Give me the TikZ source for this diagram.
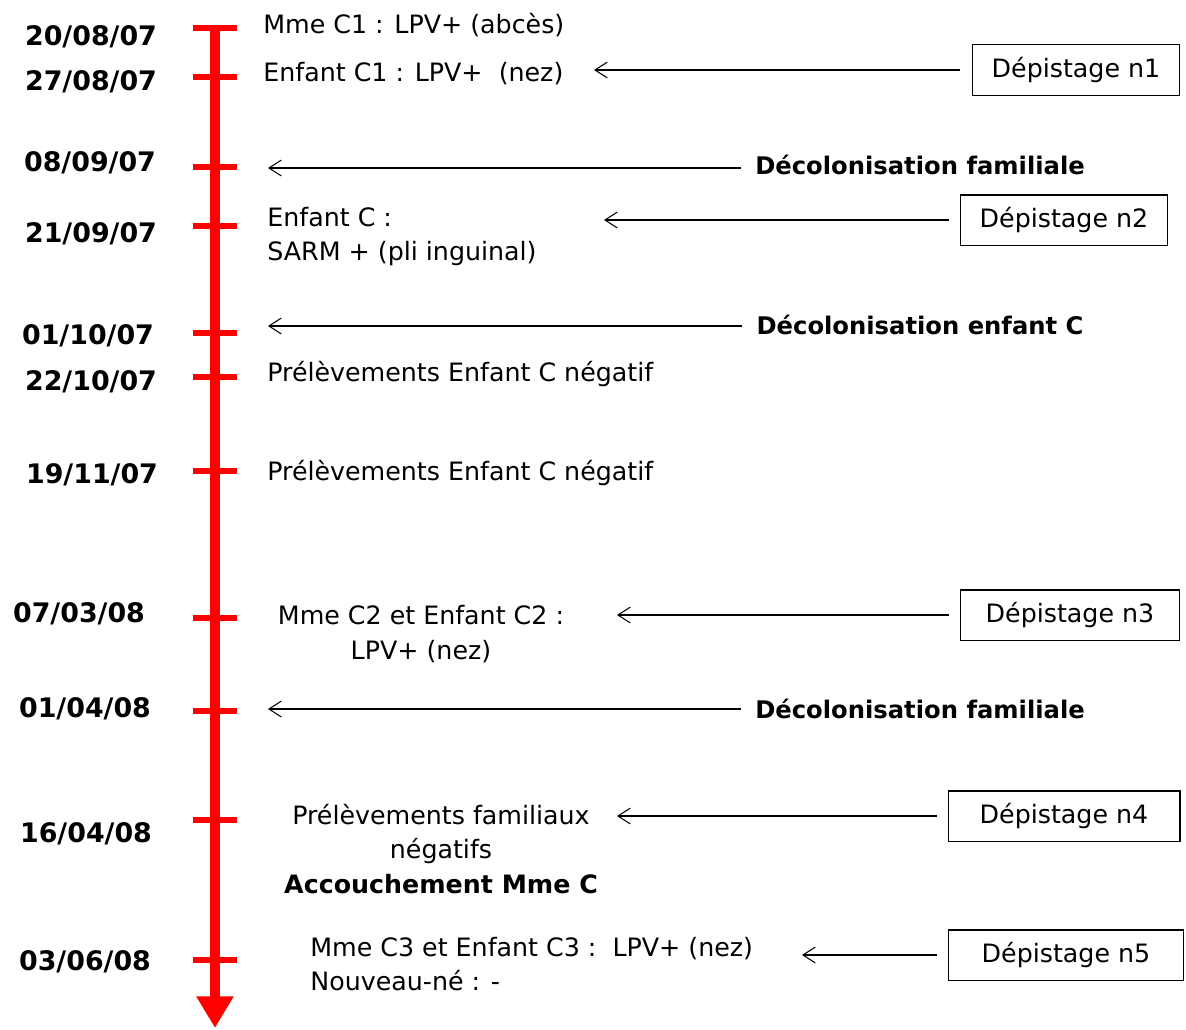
\documentclass[tikz,border=0pt]{standalone}
\usepackage{fontspec}
\setmainfont{DejaVu Sans}
\usepackage{tikz}
\usetikzlibrary{arrows.meta, positioning}

\begin{document}
\begin{tikzpicture}[
    x=0.02cm, y=-0.02cm,
    date/.style={font=\fontsize{15.3}{18}\selectfont\bfseries, inner sep=0pt},
    event/.style={font=\fontsize{14.4}{19.5}\selectfont, inner sep=0pt},
    decol/.style={font=\fontsize{13.8}{18}\selectfont\bfseries, inner sep=0pt},
    screen/.style={draw, line width=0.6pt, rectangle, minimum height=28.5pt, font=\fontsize{14.4}{18}\selectfont},
    timeline/.style={red, line width=6pt, -{Triangle[length=18pt,width=20pt]}},
    tickmark/.style={red, line width=3.4pt},
    pointer/.style={line width=0.6pt, -{Straight Barb[length=7pt,width=9pt]}}
]
    \useasboundingbox (0,0) rectangle (1186,1029);

    % time axis
    \coordinate (top) at (215,28);
    \coordinate (bottom) at (215,1028);
    \draw[timeline] (top) -- (bottom);
    \foreach \y in {28,77,167,226,333,377,471,618,711,820,960}
        \draw[tickmark] (193,\y) -- (237,\y);

    % dates
    \node[date] (d1) at (91,37) {20/08/07};
    \node[date] (d2) at (91,82) {27/08/07};
    \node[date] (d3) at (90,163) {08/09/07};
    \node[date] (d4) at (91,234) {21/09/07};
    \node[date] (d5) at (88,336) {01/10/07};
    \node[date] (d6) at (91,382) {22/10/07};
    \node[date] (d7) at (92,475) {19/11/07};
    \node[date] (d8) at (79,614) {07/03/08};
    \node[date] (d9) at (85,709) {01/04/08};
    \node[date] (d10) at (86,834) {16/04/08};
    \node[date] (d11) at (85,962) {03/06/08};

    % events
    \node[event, anchor=west] (e1) at (263,25) {Mme C1 : LPV+ (abcès)};
    \node[event, anchor=west] (e2) at (263,74) {Enfant C1 : LPV+\ \ (nez)};
    \node[event, anchor=north west, align=left] (e4) at (267,207) {Enfant C :\\SARM + (pli inguinal)};
    \node[event, anchor=west] (e6) at (267,374) {Prélèvements Enfant C négatif};
    \node[event, anchor=west] (e7) at (267,473) {Prélèvements Enfant C négatif};
    \node[event, align=center] (e8) at (421,634) {Mme C2 et Enfant C2 :\\LPV+ (nez)};
    \node[event, align=center] (e10) at (441,849) {Prélèvements familiaux\\négatifs\\\textbf{Accouchement Mme C}};
    \node[event, anchor=north west, align=left] (e11) at (310,937) {Mme C3 et Enfant C3 :\ \ LPV+ (nez)\\Nouveau-né : -};

    % decolonisation
    \node[decol] (c1) at (920,165) {Décolonisation familiale};
    \node[decol] (c2) at (920,325) {Décolonisation enfant C};
    \node[decol] (c3) at (920,709) {Décolonisation familiale};

    % screenings
    \node[screen, minimum width=118pt] (s1) at (1076,70) {Dépistage n1};
    \node[screen, minimum width=118pt] (s2) at (1064,220) {Dépistage n2};
    \node[screen, minimum width=125pt] (s3) at (1070,615) {Dépistage n3};
    \node[screen, minimum width=132pt] (s4) at (1064,816) {Dépistage n4};
    \node[screen, minimum width=134pt] (s5) at (1066,955) {Dépistage n5};

    % arrow tips
    \coordinate (p1) at (594,70);
    \coordinate (p2) at (604,220);
    \coordinate (p3) at (617,615);
    \coordinate (p4) at (617,816);
    \coordinate (p5) at (802,955);
    \coordinate (q1) at (268,168);
    \coordinate (q2) at (268,326);
    \coordinate (q3) at (268,709);

    \draw[pointer, shorten <=7pt] (s1.west) -- (p1);
    \draw[pointer, shorten <=6pt] (s2.west) -- (p2);
    \draw[pointer, shorten <=6pt] (s3.west) -- (p3);
    \draw[pointer, shorten <=6pt] (s4.west) -- (p4);
    \draw[pointer, shorten <=6pt] (s5.west) -- (p5);
    \draw[pointer, shorten <=8pt] (c1.west |- q1) -- (q1);
    \draw[pointer, shorten <=8pt] (c2.west |- q2) -- (q2);
    \draw[pointer, shorten <=8pt] (c3.west) -- (q3);
\end{tikzpicture}
\end{document}
